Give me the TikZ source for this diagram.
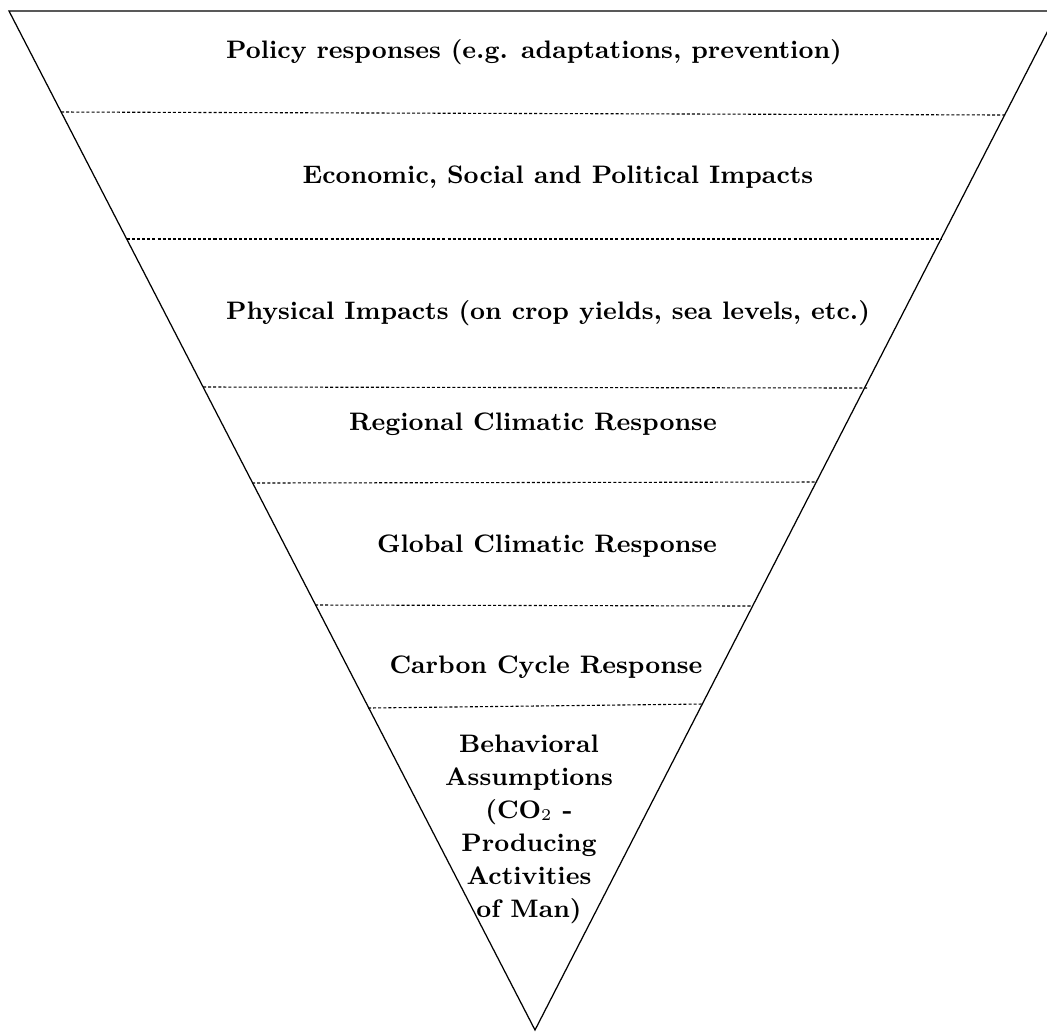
\documentclass[tikz,border=0pt]{standalone}
\begin{document}
\begin{tikzpicture}[x=0.3636pt,y=-0.3636pt,
  label/.style={font=\fontsize{9.2pt}{12pt}\selectfont\bfseries, align=center, inner sep=0pt},
  divider/.style={line width=0.4pt, dash pattern=on 1.1pt off 0.75pt},
  edge/.style={line width=0.45pt}]
  \useasboundingbox (0,0) rectangle (1047,1032);
  \clip (0,0) rectangle (1047,1032);
  % corners of the inverted triangle
  \coordinate (TL) at (9,11);
  \coordinate (TR) at (1058,11);
  \coordinate (B) at (535,1030);
  \draw[edge] (TL) -- (TR) -- (B) -- cycle;
  % level dividers, left end and right end on the sides
  \coordinate (l1) at (61,112);  \coordinate (r1) at (1005,115);
  \coordinate (l2) at (127,239); \coordinate (r2) at (942,239);
  \coordinate (l3) at (203,387); \coordinate (r3) at (867,388);
  \coordinate (l4) at (252,483); \coordinate (r4) at (817,482);
  \coordinate (l5) at (315,605); \coordinate (r5) at (752,606);
  \coordinate (l6) at (368,708); \coordinate (r6) at (703,704);
  \foreach \i in {1,...,6} \draw[divider] (l\i) -- (r\i);
  % level labels
  \node[label] (t1) at (534,52) {Policy responses (e.g. adaptations, prevention)};
  \node[label] (t2) at (558,177) {Economic, Social and Political Impacts};
  \node[label] (t3) at (548,313) {Physical Impacts (on crop yields, sea levels, etc.)};
  \node[label] (t4) at (533,424) {Regional Climatic Response};
  \node[label] (t5) at (547,546) {Global Climatic Response};
  \node[label] (t6) at (546,667) {Carbon Cycle Response};
  \node[label] (t7) at (529,829) {Behavioral\\Assumptions\\(CO$_2$ -\\Producing\\Activities\\of Man)};
\end{tikzpicture}
\end{document}
